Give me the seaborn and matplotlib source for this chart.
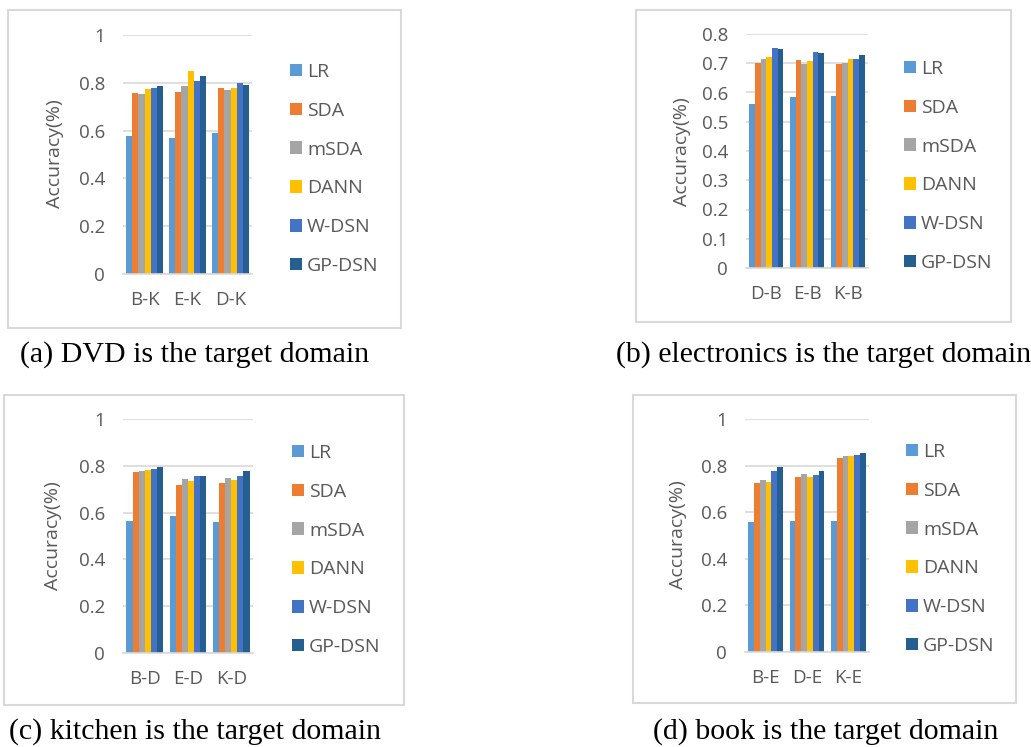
import numpy as np
import pandas as pd
import matplotlib
matplotlib.use("Agg")
import matplotlib.pyplot as plt
from matplotlib.patches import Rectangle, Patch
from matplotlib.ticker import FuncFormatter, MultipleLocator
import seaborn as sns

# ---- data -------------------------------------------------------------
methods = ["LR", "SDA", "mSDA", "DANN", "W-DSN", "GP-DSN"]
colors = ["#5B9BD5", "#ED7D31", "#A5A5A5", "#FFC000", "#4472C4", "#255E91"]

pairs_a = ["B-K", "E-K", "D-K"]
acc_a = {
    "LR":     [0.577, 0.569, 0.589],
    "SDA":    [0.756, 0.763, 0.777],
    "mSDA":   [0.752, 0.788, 0.771],
    "DANN":   [0.775, 0.851, 0.780],
    "W-DSN":  [0.780, 0.808, 0.799],
    "GP-DSN": [0.785, 0.827, 0.789],
}

pairs_b = ["D-B", "E-B", "K-B"]
acc_b = {
    "LR":     [0.560, 0.586, 0.589],
    "SDA":    [0.700, 0.711, 0.699],
    "mSDA":   [0.714, 0.699, 0.701],
    "DANN":   [0.722, 0.707, 0.716],
    "W-DSN":  [0.752, 0.740, 0.716],
    "GP-DSN": [0.748, 0.734, 0.728],
}

pairs_c = ["B-D", "E-D", "K-D"]
acc_c = {
    "LR":     [0.566, 0.584, 0.560],
    "SDA":    [0.772, 0.719, 0.725],
    "mSDA":   [0.776, 0.744, 0.748],
    "DANN":   [0.781, 0.735, 0.738],
    "W-DSN":  [0.785, 0.756, 0.756],
    "GP-DSN": [0.795, 0.756, 0.776],
}

pairs_d = ["B-E", "D-E", "K-E"]
acc_d = {
    "LR":     [0.559, 0.564, 0.564],
    "SDA":    [0.725, 0.752, 0.832],
    "mSDA":   [0.738, 0.766, 0.840],
    "DANN":   [0.729, 0.752, 0.840],
    "W-DSN":  [0.775, 0.758, 0.846],
    "GP-DSN": [0.794, 0.777, 0.854],
}

captions = [
    "(a) DVD is the target domain",
    "(b) electronics is the target domain",
    "(c) kitchen is the target domain",
    "(d) book is the target domain",
]

# ---- style ------------------------------------------------------------
sns.set_theme(style="white")
plt.rcParams["font.family"] = ["Open Sans", "DejaVu Sans"]
TXT = "#595959"
GRID = "#D9D9D9"
FS = 13.5
LEG_FS = 14

W, H = 1031, 747
fig = plt.figure(figsize=(W / 100, H / 100), dpi=100)


def fx(px):
    return px / W


def fy(py):
    return 1 - py / H


def long_frame(pairs, acc):
    rows = []
    for m in methods:
        for p, v in zip(pairs, acc[m]):
            rows.append({"pair": p, "method": m, "acc": v})
    return pd.DataFrame(rows)


# panel geometry in pixels: axes (left, right, y of zero, y of top), box, ylabel, legend, caption
panels = [
    dict(pairs=pairs_a, acc=acc_a, ymax=1.0, step=0.2,
         ax=(123, 252, 274, 35), box=(8, 10, 401, 328),
         ylab=(55, 154), leg=(290, 169), cap=(195, 355)),
    dict(pairs=pairs_b, acc=acc_b, ymax=0.8, step=0.1,
         ax=(746, 868, 268, 34), box=(636, 10, 1011, 322),
         ylab=(682, 152), leg=(904, 166), cap=(824, 355)),
    dict(pairs=pairs_c, acc=acc_c, ymax=1.0, step=0.2,
         ax=(123, 253, 653, 419), box=(4, 395, 404, 705),
         ylab=(53, 536), leg=(292, 550), cap=(195, 732)),
    dict(pairs=pairs_d, acc=acc_d, ymax=1.0, step=0.2,
         ax=(745, 869, 652, 419), box=(633, 395, 1016, 703),
         ylab=(678, 535), leg=(906, 549), cap=(826, 732)),
]

handles = [Patch(facecolor=c, edgecolor="none") for c in colors]

for i, p in enumerate(panels):
    x0, x1, yb, yt = p["ax"]
    ax = fig.add_axes([fx(x0), fy(yb), fx(x1 - x0), (yb - yt) / H])
    df = long_frame(p["pairs"], p["acc"])
    sns.barplot(data=df, x="pair", y="acc", hue="method", hue_order=methods,
                palette=colors, saturation=1, width=0.84, gap=0,
                errorbar=None, legend=False, ax=ax, linewidth=0)
    ax.set_ylim(0, p["ymax"])
    ax.set_xlim(-0.5, 2.5)
    ax.yaxis.set_major_locator(MultipleLocator(p["step"]))
    ax.yaxis.set_major_formatter(FuncFormatter(lambda v, _: f"{v:g}"))
    ax.grid(axis="y", color=GRID, linewidth=1.2)
    ax.set_axisbelow(True)
    for s in ("left", "right", "top"):
        ax.spines[s].set_visible(False)
    ax.spines["bottom"].set_color(GRID)
    ax.spines["bottom"].set_linewidth(1.2)
    ax.tick_params(axis="both", length=0, labelsize=FS, labelcolor=TXT)
    ax.tick_params(axis="y", pad=13)
    ax.tick_params(axis="x", pad=12)
    ax.set_xlabel("")
    ax.set_ylabel("")
    ax.patch.set_alpha(0)

    fig.text(fx(p["ylab"][0]), fy(p["ylab"][1]), "Accuracy(%)", rotation=90,
             ha="center", va="center", fontsize=FS + 0.5, color=TXT)

    fig.legend(handles, methods, loc="center left",
               bbox_to_anchor=(fx(p["leg"][0]), fy(p["leg"][1])),
               frameon=False, fontsize=LEG_FS, labelcolor=TXT,
               handlelength=0.62, handleheight=0.62, handletextpad=0.25,
               labelspacing=1.07, borderpad=0, borderaxespad=0)

    bx0, by0, bx1, by1 = p["box"]
    fig.patches.append(Rectangle((fx(bx0), fy(by1)), fx(bx1 - bx0), (by1 - by0) / H,
                                 transform=fig.transFigure, fill=False,
                                 edgecolor=GRID, linewidth=1.5, zorder=0))

    fig.text(fx(p["cap"][0]), fy(p["cap"][1]), captions[i], ha="center", va="center",
             fontsize=21.5, family=["Liberation Serif", "DejaVu Serif"], color="black")

fig.savefig("out.png", dpi=100, facecolor="white")
